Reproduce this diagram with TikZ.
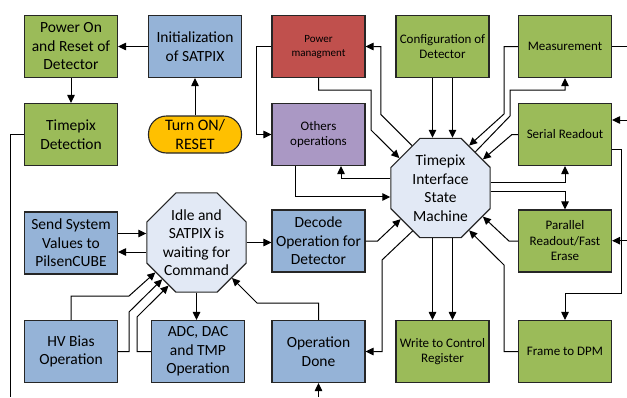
\documentclass[tikz,border=0pt]{standalone}
\usepackage{fontspec}
\setmainfont{Carlito}
\usepackage{tikz}
\usepackage{xcolor}
\usetikzlibrary{shapes.geometric, arrows.meta, positioning, calc}

\definecolor{boxgreen}{RGB}{155,187,89}
\definecolor{boxblue}{RGB}{149,179,215}
\definecolor{boxred}{RGB}{192,80,77}
\definecolor{boxpurple}{RGB}{170,152,196}
\definecolor{boxyellow}{RGB}{255,192,0}
\definecolor{octfill}{RGB}{226,233,245}

\begin{document}
\begin{tikzpicture}[x=1pt, y=-1pt,
    box/.style={draw=black!85, line width=1.1pt, minimum width=93pt, minimum height=62pt,
        inner sep=0pt, align=center, font=\fontsize{15.5}{18.5}\selectfont},
    small/.style={font=\fontsize{13}{15.5}\selectfont},
    grn/.style={box, fill=boxgreen},
    blu/.style={box, fill=boxblue},
    oct/.style={regular polygon, regular polygon sides=8, minimum size=107.5pt, inner sep=0pt,
        draw=black!85, line width=1.1pt, fill=octfill, align=center,
        font=\fontsize{15.5}{18.5}\selectfont},
    arr/.style={-{Triangle[length=8pt,width=7.5pt]}, line width=1pt},
    ln/.style={line width=1pt}]
\useasboundingbox (0,0) rectangle (627,397);

% top row
\node[grn] (pwron) at (71,46.5) {Power On\\and Reset of\\Detector};
\node[blu] (init) at (195,46.5) {Initialization\\of SATPIX};
\node[box, fill=boxred, font=\fontsize{11}{14}\selectfont] (pwrmgmt) at (318.5,46.5) {Power\\managment};
\node[grn, small] (config) at (442.5,46.5) {Configuration of\\Detector};
\node[grn, small] (meas) at (565,46.5) {Measurement};

% second row
\node[grn] (tpxdet) at (71,134.5) {Timepix\\Detection};
\node[box, fill=boxyellow, minimum height=37pt, rounded corners=18pt,
    font=\fontsize{16}{18.5}\selectfont] (turnon) at (195,134.5) {Turn ON/\\RESET};
\node[box, small, fill=boxpurple] (others) at (318.5,134.5) {Others\\operations};
\node[grn, small] (serial) at (565,134.5) {Serial Readout};

% middle row
\node[blu] (sendsys) at (71,243) {Send System\\Values to\\PilsenCUBE};
\node[oct] (idle) at (196.5,242.5) {Idle and\\SATPIX is\\waiting for\\Command};
\node[blu] (decode) at (318.5,241) {Decode\\Operation for\\Detector};
\node[oct] (sm) at (440.5,188) {Timepix\\Interface\\State\\Machine};
\node[grn, small] (parallel) at (565,241) {Parallel\\Readout/Fast\\Erase};

% bottom row
\node[blu] (hvbias) at (71,351.5) {HV Bias\\Operation};
\node[blu] (adc) at (198,351.5) {ADC, DAC\\and TMP\\Operation};
\node[blu] (opdone) at (318.5,351.5) {Operation\\Done};
\node[grn, small] (wrctrl) at (442.5,351.5) {Write to Control\\Register};
\node[grn, small] (frame) at (565,351.5) {Frame to DPM};

% free ends at the border
\coordinate (outL) at (10,397);
\coordinate (outR) at (627,46.5);
\coordinate (inS) at (627,120);
\coordinate (inP) at (627,240.7);
\coordinate (inB) at (318.5,397);

% start-up
\draw[arr] (init.west) -- (pwron.east);
\draw[arr] (pwron.south) -- (tpxdet.north);
\draw[arr] (turnon.north) -- (init.south);
\draw[ln] (tpxdet.west) -| (outL);

% state machine and its tasks
\draw[arr] (pwrmgmt.west) -- ++(-15,0) |- (others.west);
\draw[arr] (pwrmgmt.south) -- ++(0,12) -| (371,130) -- (sm.144);
\draw[arr] (sm.124) -- ++(-31,-31) |- (pwrmgmt.east);
\draw[arr] ([yshift=9pt]sm.west) -| ([xshift=22.5pt]others.south);
\draw[arr] ([xshift=-23pt]others.south) |- ([yshift=-9pt]sm.west);
\draw[arr] (decode.east) -- ++(12,0) -- (sm.218);
\foreach \d in {-10,10} {
    \draw[arr] ([xshift=\d pt]config.south) -- ([xshift=\d pt]config.south |- sm.north);
    \draw[arr] ([xshift=\d pt]wrctrl.north |- sm.south) -- ([xshift=\d pt]wrctrl.north);
}
\draw[arr] (meas.west) -| (504,114) -- (sm.56);
\draw[arr] (sm.46) -- (510,116) |- ([yshift=-12pt]meas.south) -- (meas.south);
\draw[arr] (serial.west) -- ++(-6,0) -- (sm.34);
\draw[arr] ([yshift=5pt]sm.east) -| (serial.south);
\draw[arr] ([yshift=-4pt]sm.east) -| (parallel.north);
\draw[arr] (parallel.west) -- ++(-9,0) -- (sm.-34);
\draw[arr] (frame.west) -| (504,265) -- (sm.-56);
\draw[arr] (sm.237) -- (382,260) |- (opdone.east);

% right border
\draw[ln] (meas.east) -- (outR);
\draw[arr] (inS) -- (inS -| serial.east);
\draw[arr] (inP) -- (inP -| parallel.east);
\draw[arr] ([yshift=-15pt]serial.east) -| (621,293) -| (frame.north);

% idle state
\draw[arr] ([yshift=9.5pt]sendsys.east) -- ([yshift=9.5pt]sendsys.east -| idle.west);
\draw[arr] ([yshift=-9pt]sendsys.east -| idle.west) -- ([yshift=-9pt]sendsys.east);
\draw[arr] (idle.east) -- (idle.east -| decode.west);
\draw[arr] (idle.south) -- (idle.south |- adc.north);
\draw[arr] (opdone.north) |- (257,303) -- (idle.-45);
\draw[arr] (hvbias.north) |- (129,296) -- (idle.216);
\draw[arr] (hvbias.east) -| (129,312) -- (idle.227);
\draw[arr] (adc.west) -| (137,317) -- (idle.237);
\draw[arr] (inB) -- (opdone.south);
\end{tikzpicture}
\end{document}
